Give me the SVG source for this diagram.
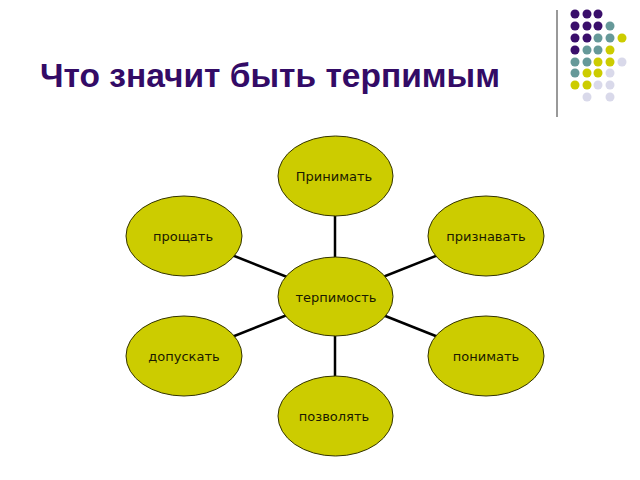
<svg xmlns="http://www.w3.org/2000/svg" width="640" height="480" viewBox="0 0 640 480">
<style>
.node ellipse{fill:#cccc00;stroke:#333300;stroke-width:1}
.node text{font-family:"DejaVu Sans","Liberation Sans",sans-serif;font-size:13px;fill:#1a1a00;text-anchor:middle}
.conn line{stroke:#000;stroke-width:2.5}
.title{font-family:"Liberation Sans",Arial,sans-serif;font-weight:bold;font-size:33.5px;fill:#330b66}
.p{fill:#3a0f6b}.t{fill:#669999}.y{fill:#cccc00}.l{fill:#d9d9ea}
</style>
<rect width="640" height="480" fill="#fff"/>
<g id="decor">
<line x1="557" y1="10" x2="557" y2="117" stroke="#999" stroke-width="2"/>
<g>
<circle class="p" cx="575" cy="14" r="4.5"/><circle class="p" cx="587" cy="14" r="4.5"/><circle class="p" cx="598" cy="14" r="4.5"/>
<circle class="p" cx="575" cy="26" r="4.5"/><circle class="p" cx="587" cy="26" r="4.5"/><circle class="p" cx="598" cy="26" r="4.5"/><circle class="t" cx="610" cy="26" r="4.5"/>
<circle class="p" cx="575" cy="38" r="4.5"/><circle class="p" cx="587" cy="38" r="4.5"/><circle class="t" cx="598" cy="38" r="4.5"/><circle class="t" cx="610" cy="38" r="4.5"/><circle class="y" cx="622" cy="38" r="4.5"/>
<circle class="p" cx="575" cy="50" r="4.5"/><circle class="t" cx="587" cy="50" r="4.5"/><circle class="t" cx="598" cy="50" r="4.5"/><circle class="y" cx="610" cy="50" r="4.5"/>
<circle class="t" cx="575" cy="62" r="4.5"/><circle class="t" cx="587" cy="62" r="4.5"/><circle class="y" cx="598" cy="62" r="4.5"/><circle class="y" cx="610" cy="62" r="4.5"/><circle class="l" cx="622" cy="62" r="4.5"/>
<circle class="t" cx="575" cy="73" r="4.5"/><circle class="y" cx="587" cy="73" r="4.5"/><circle class="y" cx="598" cy="73" r="4.5"/><circle class="l" cx="610" cy="73" r="4.5"/>
<circle class="y" cx="575" cy="85" r="4.5"/><circle class="y" cx="587" cy="85" r="4.5"/><circle class="l" cx="598" cy="85" r="4.5"/><circle class="l" cx="610" cy="85" r="4.5"/>
<circle class="l" cx="587" cy="97" r="4.5"/><circle class="l" cx="610" cy="97" r="4.5"/>
</g>
</g>
<text class="title" x="40" y="87" textLength="460" lengthAdjust="spacingAndGlyphs">Что значит быть терпимым</text>
<g id="connectors" class="conn">
<line x1="335" y1="296" x2="335" y2="176"/>
<line x1="335" y1="296" x2="184" y2="236"/>
<line x1="335" y1="296" x2="486" y2="236"/>
<line x1="335" y1="296" x2="184" y2="356"/>
<line x1="335" y1="296" x2="486" y2="356"/>
<line x1="335" y1="296" x2="335" y2="416"/>
</g>
<g id="n-prinimat" class="node"><ellipse cx="335.5" cy="176" rx="57.5" ry="40"/><text x="334" y="181">Принимать</text></g>
<g id="n-proshchat" class="node"><ellipse cx="184" cy="236" rx="58" ry="40"/><text x="183" y="241">прощать</text></g>
<g id="n-priznavat" class="node"><ellipse cx="486" cy="236" rx="58" ry="40"/><text x="486" y="241">признавать</text></g>
<g id="n-terpimost" class="node"><ellipse cx="335.5" cy="296.5" rx="57.5" ry="39.5"/><text x="336" y="302">терпимость</text></g>
<g id="n-dopuskat" class="node"><ellipse cx="184" cy="356" rx="58" ry="40"/><text x="184" y="361">допускать</text></g>
<g id="n-ponimat" class="node"><ellipse cx="486" cy="356" rx="58" ry="40"/><text x="486" y="361">понимать</text></g>
<g id="n-pozvolyat" class="node"><ellipse cx="335.5" cy="416" rx="57.5" ry="40"/><text x="334" y="421">позволять</text></g>
</svg>
